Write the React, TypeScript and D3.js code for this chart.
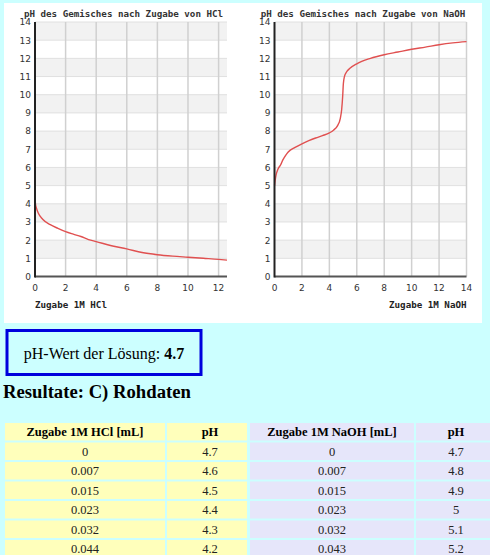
import React from "react";
import * as d3 from "d3";

// ---- Data ----
const hclX = [0, 0.03, 0.1, 0.22, 0.5, 1.0, 1.5, 2.0, 2.5, 3.0, 3.5, 4.0, 5.0, 6.0, 7.0, 8.0, 9.0, 10.0, 11.0, 12.0, 12.55];
const hclPH = [4.4, 4.0, 3.75, 3.48, 3.15, 2.85, 2.65, 2.47, 2.33, 2.2, 2.03, 1.92, 1.69, 1.52, 1.32, 1.2, 1.12, 1.06, 1.0, 0.94, 0.9];

const naohX = [0, 0.05, 0.12, 0.25, 0.45, 0.6, 0.8, 1.0, 1.5, 2.0, 2.5, 3.0, 3.5, 4.0, 4.3, 4.6, 4.8, 4.9, 4.97, 5.02, 5.1, 5.25, 5.5, 6.0, 7.0, 8.0, 9.0, 10.0, 11.0, 12.0, 13.0, 14.0];
const naohPH = [5.0, 5.3, 5.6, 5.9, 6.15, 6.4, 6.65, 6.85, 7.1, 7.3, 7.47, 7.62, 7.75, 7.9, 8.05, 8.3, 8.7, 9.2, 9.9, 10.6, 11.0, 11.25, 11.45, 11.7, 12.0, 12.2, 12.35, 12.5, 12.62, 12.75, 12.85, 12.92];

const yTicks = d3.range(0, 15);
const hclXTicks = [0, 2, 4, 6, 8, 10, 12];
const naohXTicks = [0, 2, 4, 6, 8, 10, 12, 14];

const tableHclVol = ["0", "0.007", "0.015", "0.023", "0.032", "0.044"];
const tableHclPH = ["4.7", "4.6", "4.5", "4.4", "4.3", "4.2"];
const tableNaohVol = ["0", "0.007", "0.015", "0.023", "0.032", "0.043"];
const tableNaohPH = ["4.7", "4.8", "4.9", "5", "5.1", "5.2"];
const tableHeaders = ["Zugabe 1M HCl [mL]", "pH", "Zugabe 1M NaOH [mL]", "pH"];

const currentPH = "4.7";

const MONO = "'DejaVu Sans Mono', monospace";
const SANS = "'DejaVu Sans', sans-serif";
const SERIF = "'Liberation Serif', 'Times New Roman', serif";

type ChartProps = {
  ox: number;
  xs: number[];
  ys: number[];
  xMax: number;
  xTicks: number[];
  title: string;
  xLabel: string;
  labelRight: boolean;
};

function Chart({ ox, xs, ys, xMax, xTicks, title, xLabel, labelRight }: ChartProps) {
  const left = 31;
  const right = 223;
  const top = 22;
  const bottom = 276.5;
  const x = d3.scaleLinear().domain([0, xMax]).range([left, right]);
  const y = d3.scaleLinear().domain([0, 14]).range([bottom, top]);
  const pts = xs.map((v, i) => [v, ys[i]] as [number, number]);
  const line = d3
    .line<[number, number]>()
    .x((d) => x(d[0]))
    .y((d) => y(d[1]))
    .curve(d3.curveMonotoneX);
  const bands = d3.range(0, 7).map((k) => 2 * k + 1);
  return (
    <g transform={`translate(${ox},0)`}>
      {bands.map((b) => (
        <rect key={b} x={left} y={y(b + 1)} width={right - left} height={y(b) - y(b + 1)} fill="#f2f2f2" />
      ))}
      {yTicks.filter((t) => t > 0).map((t) => (
        <line key={t} x1={left} x2={right} y1={y(t)} y2={y(t)} stroke="#e0e0e0" strokeWidth={1} />
      ))}
      {xTicks.filter((t) => t > 0).map((t) => (
        <line key={t} x1={x(t)} x2={x(t)} y1={top} y2={bottom} stroke="#d0d0d0" strokeWidth={1.5} />
      ))}
      <path d={line(pts) || ""} fill="none" stroke="#e05050" strokeWidth={1.4} />
      <line x1={left} x2={right} y1={bottom} y2={bottom} stroke="#555" strokeWidth={2} />
      <line x1={left} x2={left} y1={top} y2={bottom + 1} stroke="#222" strokeWidth={2} />
      {yTicks.map((t) => (
        <text key={t} x={left - 4} y={y(t)} dy="0.38em" textAnchor="end" fontFamily={SANS} fontSize={9} fill="#333">
          {t}
        </text>
      ))}
      {xTicks.map((t) => (
        <text key={t} x={x(t)} y={291} textAnchor="middle" fontFamily={SANS} fontSize={9} fill="#333">
          {t}
        </text>
      ))}
      <text x={119.5} y={16.5} textAnchor="middle" fontFamily={MONO} fontWeight="bold" fontSize={9.2} fill="#333">
        {title}
      </text>
      <text
        x={labelRight ? right : left}
        y={307.5}
        textAnchor={labelRight ? "end" : "start"}
        fontFamily={MONO}
        fontWeight="bold"
        fontSize={9.2}
        fill="#222"
      >
        {xLabel}
      </text>
    </g>
  );
}

export default function App() {
  const W = 490;
  const H = 555;
  const cols = [
    { x0: 5, x1: 165, cx: 85, fill: "#ffffbb" },
    { x0: 167, x1: 247, cx: 210, fill: "#ffffbb" },
    { x0: 250, x1: 414, cx: 332, fill: "#e6e6fa" },
    { x0: 416, x1: 497, cx: 456, fill: "#e6e6fa" },
  ];
  const rowTop = 423;
  const rowH = 17.5;
  const rowPitch = 19.5;
  const bodyRows = tableHclVol.map((v, i) => [v, tableHclPH[i], tableNaohVol[i], tableNaohPH[i]]);
  const allRows = [tableHeaders, ...bodyRows];
  return (
    <svg width={W} height={H} style={{ position: "absolute", left: 0, top: 0, display: "block" }}>
      <rect x={0} y={0} width={W} height={H} fill="#ccffff" />
      <rect x={4} y={3} width={478} height={320} fill="#ffffff" />
      <Chart ox={4} xs={hclX} ys={hclPH} xMax={12.55} xTicks={hclXTicks} title="pH des Gemisches nach Zugabe von HCl" xLabel="Zugabe 1M HCl" labelRight={false} />
      <Chart ox={243.5} xs={naohX} ys={naohPH} xMax={14} xTicks={naohXTicks} title="pH des Gemisches nach Zugabe von NaOH" xLabel="Zugabe 1M NaOH" labelRight={true} />

      <rect x={7} y={330.5} width={194} height={44} fill="none" stroke="#0000dd" strokeWidth={3} />
      <text x={104} y={358.5} textAnchor="middle" fontFamily={SERIF} fontSize={16} fill="#000">
        pH-Wert der Lösung: <tspan fontWeight="bold">{currentPH}</tspan>
      </text>
      <text x={3} y={398} fontFamily={SERIF} fontSize={18.7} fontWeight="bold" fill="#000">
        Resultate: C) Rohdaten
      </text>

      {allRows.map((row, ri) => {
        const ry = rowTop + ri * rowPitch;
        return (
          <g key={ri}>
            {cols.map((c, ci) => (
              <g key={ci}>
                <rect x={c.x0} y={ry} width={c.x1 - c.x0} height={rowH} fill={c.fill} />
                <text
                  x={c.cx}
                  y={ry + rowH / 2}
                  dy="0.35em"
                  textAnchor="middle"
                  fontFamily={SERIF}
                  fontSize={12.5}
                  fontWeight={ri === 0 ? "bold" : "normal"}
                  fill={ri === 0 ? "#000" : "#222"}
                >
                  {row[ci]}
                </text>
              </g>
            ))}
          </g>
        );
      })}
    </svg>
  );
}
